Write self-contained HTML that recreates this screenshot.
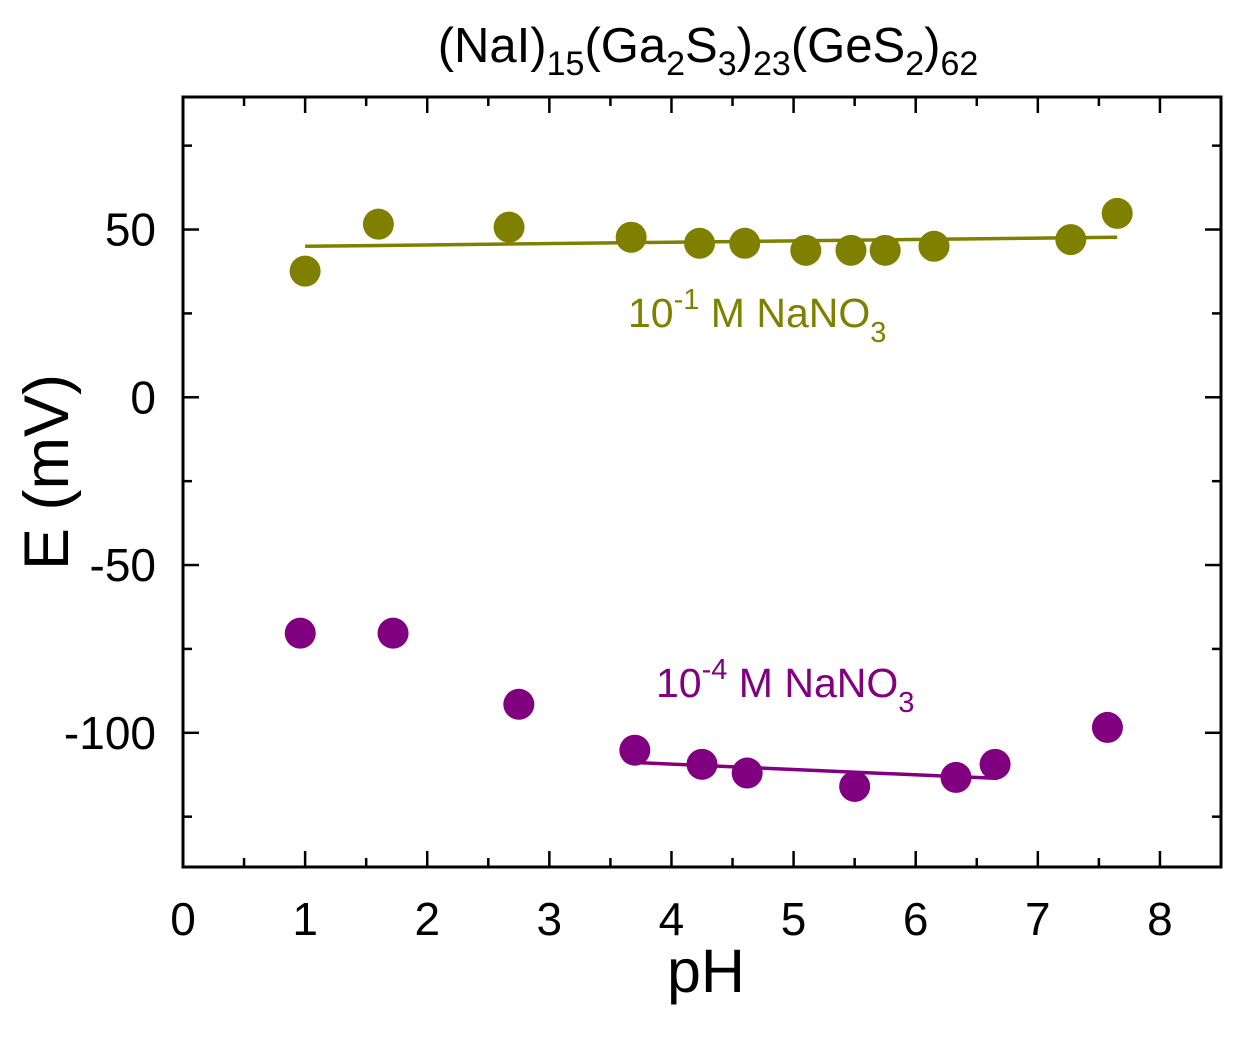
<!DOCTYPE html>
<html><head><meta charset="utf-8"><style>
html,body{margin:0;padding:0;background:#fff;}
svg text{font-family:"Liberation Sans",Arial,sans-serif;}
</style></head><body>
<svg id="chart" width="1244" height="1034" xmlns="http://www.w3.org/2000/svg">
<g id="ticks"></g>
<g id="marks"></g>
<rect x="183" y="97" width="1038" height="770" fill="none" stroke="#000" stroke-width="3"/>
<text x="708" y="62" font-size="49" text-anchor="middle">(NaI)<tspan font-size="34" dy="13">15</tspan><tspan dy="-13">(Ga</tspan><tspan font-size="34" dy="13">2</tspan><tspan dy="-13">S</tspan><tspan font-size="34" dy="13">3</tspan><tspan dy="-13">)</tspan><tspan font-size="34" dy="13">23</tspan><tspan dy="-13">(GeS</tspan><tspan font-size="34" dy="13">2</tspan><tspan dy="-13">)</tspan><tspan font-size="34" dy="13">62</tspan></text>
<text x="706" y="992" font-size="61" text-anchor="middle">pH</text>
<text transform="translate(68,472) rotate(-90)" font-size="63" text-anchor="middle">E (mV)</text>
<text x="628" y="327" font-size="41" fill="#808000">10<tspan font-size="29" dy="-18">-1</tspan><tspan dy="18"> M NaNO</tspan><tspan font-size="29" dy="15">3</tspan></text>
<text x="656" y="697" font-size="41" fill="#800080">10<tspan font-size="29" dy="-18">-4</tspan><tspan dy="18"> M NaNO</tspan><tspan font-size="29" dy="15">3</tspan></text>
</svg>
<script>
const olivePH = [1.0, 1.6, 2.67, 3.67, 4.23, 4.6, 5.1, 5.47, 5.75, 6.15, 7.27, 7.65];
const oliveE = [37.6, 51.6, 50.7, 47.7, 45.9, 45.9, 43.8, 43.8, 43.8, 45, 47, 54.8];
const oliveFitPH = [1.0, 7.65];
const oliveFitE = [45, 47.7];
const purplePH = [0.96, 1.72, 2.75, 3.7, 4.25, 4.62, 5.5, 6.33, 6.65, 7.57];
const purpleE = [-70.3, -70.3, -91.5, -105.2, -109.4, -112, -116, -113.3, -109.4, -98.4];
const purpleFitPH = [3.66, 6.67];
const purpleFitE = [-108.8, -113.6];
const xTicks = [0,1,2,3,4,5,6,7,8];
const yTicks = [-100,-50,0,50];

const X0=183,X1=1221,Y0=867,Y1=97, xmin=0,xmax=8.5,ymin=-140,ymax=89.5;
const sx=v=>X0+(v-xmin)/(xmax-xmin)*(X1-X0);
const sy=v=>Y0-(v-ymin)/(ymax-ymin)*(Y0-Y1);
const NS="http://www.w3.org/2000/svg";
const tg=document.getElementById('ticks'), mg=document.getElementById('marks');
function mk(tag,attrs,parent){const e=document.createElementNS(NS,tag);for(const k in attrs)e.setAttribute(k,attrs[k]);parent.appendChild(e);return e;}
for(let v=0;v<=8.5;v+=0.5){
  const x=sx(v), L=Number.isInteger(v)?16:9;
  const t1=mk('line',{x1:x,x2:x,y1:Y0,y2:Y0-L,stroke:'#000','stroke-width':2.5},tg);
  
  
  const t2=mk('line',{x1:x,x2:x,y1:Y1,y2:Y1+L,stroke:'#000','stroke-width':2.5},tg);
  
  
}
xTicks.forEach(v=>{
  const t=mk('text',{x:sx(v),y:935,'font-size':46,'text-anchor':'middle'},tg);t.textContent=v;
  
  
});
for(let v=-125;v<=75;v+=25){
  const y=sy(v), L=(v%50===0)?16:9;
  const t1=mk('line',{x1:X0,x2:X0+L,y1:y,y2:y,stroke:'#000','stroke-width':2.5},tg);
  
  
  const t2=mk('line',{x1:X1,x2:X1-L,y1:y,y2:y,stroke:'#000','stroke-width':2.5},tg);
  
  
}
yTicks.forEach(v=>{
  const t=mk('text',{x:156,y:sy(v)+16,'font-size':46,'text-anchor':'end'},tg);t.textContent=v;
  
  
});
function series(px,py,fx,fy,col,name){
  const l=mk('line',{x1:sx(fx[0]),y1:sy(fy[0]),x2:sx(fx[1]),y2:sy(fy[1]),stroke:col,'stroke-width':3.5},mg);
  
  
  px.forEach((v,i)=>{
    const c=mk('circle',{cx:sx(v),cy:sy(py[i]),r:15.5,fill:col},mg);
    
    
  });
}
series(olivePH,oliveE,oliveFitPH,oliveFitE,'#808000','nanO3-1e-1');
series(purplePH,purpleE,purpleFitPH,purpleFitE,'#800080','nanO3-1e-4');
</script>
</body></html>
